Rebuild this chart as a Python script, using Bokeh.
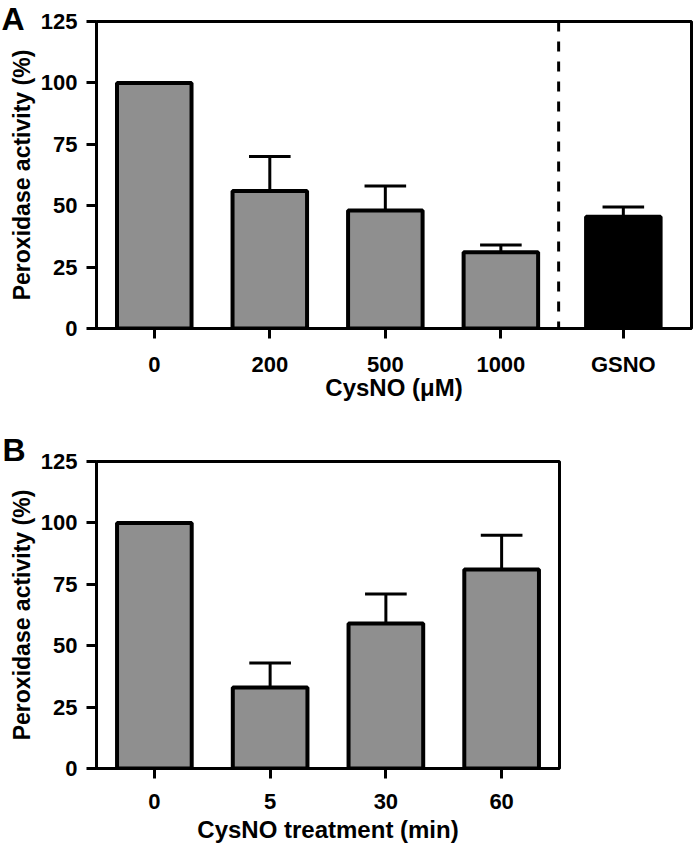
from bokeh.plotting import figure
from bokeh.models import FixedTicker, Span, Range1d
from bokeh.layouts import column
from bokeh.embed import file_html
from bokeh.resources import INLINE

# ---------------- data ----------------
a_categories = ["0", "200", "500", "1000"]
a_means = [100, 56, 48, 31]
a_errors = [0, 14, 10, 3]
a_control_label = "GSNO"
a_control_mean = [45.5]
a_control_error = [4]

b_categories = ["0", "5", "30", "60"]
b_means = [100, 33, 59, 81]
b_errors = [0, 10, 12, 14]

y_ticks = [0, 25, 50, 75, 100, 125]

a_xlabel = "CysNO (\u03bcM)"
b_xlabel = "CysNO treatment (min)"
y_label = "Peroxidase activity (%)"

# ---------------- style ----------------
FONT = "Liberation Sans"
GREY = "#8f8f8f"
BAR_W = 0.645
CAP = 0.18
GSNO_GAP = 0.06
LEFT = 96
FH = 307


def style(p, xticks, xlabels, xlabel, tick_standoff, label_standoff):
    p.outline_line_color = "black"
    p.outline_line_width = 3
    p.xgrid.visible = False
    p.ygrid.visible = False
    p.background_fill_color = "white"
    p.border_fill_color = "white"

    ya = p.yaxis[0]
    ya.ticker = FixedTicker(ticks=y_ticks)
    ya.axis_label = y_label
    ya.axis_line_width = 3
    ya.major_tick_line_width = 3
    ya.major_tick_out = 10
    ya.major_tick_in = 0
    ya.minor_tick_line_color = None
    ya.major_label_standoff = 9
    ya.axis_label_standoff = 3
    ya.major_label_text_font = FONT
    ya.major_label_text_font_style = "bold"
    ya.major_label_text_font_size = "22px"
    ya.major_label_text_color = "black"
    ya.axis_label_text_font = FONT
    ya.axis_label_text_font_style = "bold"
    ya.axis_label_text_font_size = "23px"
    ya.axis_label_text_color = "black"

    xa = p.xaxis[0]
    xa.ticker = FixedTicker(ticks=xticks)
    xa.major_label_overrides = {t: l for t, l in zip(xticks, xlabels)}
    xa.axis_label = xlabel
    xa.axis_line_width = 3
    xa.major_tick_line_width = 3
    xa.major_tick_out = 10
    xa.major_tick_in = 0
    xa.minor_tick_line_color = None
    xa.major_label_standoff = tick_standoff
    xa.axis_label_standoff = label_standoff
    xa.major_label_text_font = FONT
    xa.major_label_text_font_style = "bold"
    xa.major_label_text_font_size = "22px"
    xa.major_label_text_color = "black"
    xa.axis_label_text_font = FONT
    xa.axis_label_text_font_style = "bold"
    xa.axis_label_text_font_size = "24px"
    xa.axis_label_text_color = "black"


def panel_letter(p, offset, standoff):
    t = p.title
    t.text_font = FONT
    t.text_font_style = "bold"
    t.text_font_size = "32px"
    t.text_color = "black"
    t.align = "left"
    t.vertical_align = "bottom"
    t.offset = offset
    t.standoff = standoff


def draw_bars(p, xs, means, errors, fill):
    ex = [x for x, e in zip(xs, errors) if e > 0]
    em = [m for m, e in zip(means, errors) if e > 0]
    ee = [m + e for m, e in zip(means, errors) if e > 0]
    if ex:
        p.segment(x0=ex, y0=em, x1=ex, y1=ee, line_color="black", line_width=3)
        p.segment(x0=[x - CAP for x in ex], y0=ee, x1=[x + CAP for x in ex], y1=ee,
                  line_color="black", line_width=3)
    p.vbar(x=xs, top=means, bottom=0, width=BAR_W, fill_color=fill,
           line_color="black", line_width=4)


# ---------------- panel A ----------------
a_x = list(range(len(a_categories)))
gsno_x = len(a_categories) + GSNO_GAP
pa = figure(title="A", frame_width=595, frame_height=FH, output_backend="svg",
            toolbar_location=None, x_range=Range1d(-0.5, 4.65), y_range=Range1d(0, 125))
pa.min_border_left = LEFT
pa.min_border_right = 2
pa.min_border_top = 21
pa.min_border_bottom = 85
style(pa, a_x + [gsno_x], a_categories + [a_control_label], a_xlabel, 13, -6)
panel_letter(pa, -(LEFT - 1), -30)
draw_bars(pa, a_x, a_means, a_errors, GREY)
draw_bars(pa, [gsno_x], a_control_mean, a_control_error, "black")
pa.add_layout(Span(location=len(a_categories) - 0.5, dimension="height",
                   line_color="black", line_width=3, line_dash="10 10"))

# ---------------- panel B ----------------
b_x = list(range(len(b_categories)))
pb = figure(title="B", frame_width=463, frame_height=FH, output_backend="svg",
            toolbar_location=None, x_range=Range1d(-0.5, 3.5), y_range=Range1d(0, 125))
pb.min_border_left = LEFT
pb.min_border_right = 10
pb.min_border_top = 48
pb.min_border_bottom = 82
style(pb, b_x, b_categories, b_xlabel, 15, 4)
panel_letter(pb, -(LEFT - 2), -12)
draw_bars(pb, b_x, b_means, b_errors, GREY)

layout = column(pa, pb, spacing=0)
open("out.html", "w").write(file_html(layout, INLINE))
